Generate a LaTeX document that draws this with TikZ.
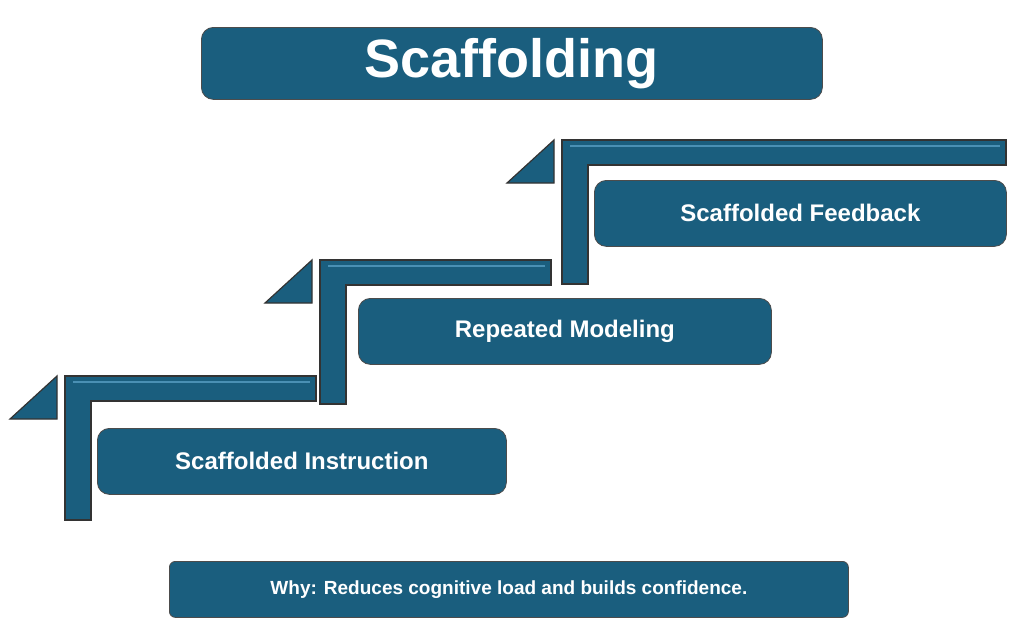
\documentclass[tikz,border=0pt]{standalone}
\usepackage{fontspec}
\setmainfont{Liberation Sans}
\definecolor{teal1}{HTML}{1A5E7E}
\definecolor{teal2}{HTML}{4A90B4}
\tikzset{
  box/.style = {draw=black!70, fill=teal1, rounded corners=6pt, text=white,
    font=\bfseries, inner sep=0pt, anchor=north west},
  stair/.style = {draw=black!80, fill=teal1, line width=0.6pt},
}
\begin{document}
\begin{tikzpicture}[x=0.5pt, y=-0.5pt]
  \useasboundingbox (0,0) rectangle (1024,638);
  % title
  \node[box, minimum width=310.5pt, minimum height=36pt, font=\bfseries\fontsize{27}{30}\selectfont] (title) at (201,27) {Scaffolding};
  % steps
  \foreach \x/\y/\w in {65/376/251, 320/260/231, 562/140/444} {
    \draw[stair] (\x,\y) -- ++(\w,0) -- ++(0,25) -- ++({26-\w},0) -- ++(0,119) -- ++(-26,0) -- cycle;
    \draw[stair] ({\x-55},{\y+43}) -- ({\x-8},\y) -- ({\x-8},{\y+43}) -- cycle;
    \draw[teal2, line width=1pt] ({\x+8},{\y+6}) -- ({\x+\w-6},{\y+6});
  }
  % boxes
  \node[box, minimum width=204.5pt, minimum height=33pt, font=\bfseries\fontsize{12}{14}\selectfont] (instr) at (97,428) {Scaffolded Instruction};
  \node[box, minimum width=206.5pt, minimum height=33pt, font=\bfseries\fontsize{12}{14}\selectfont] (model) at (358,298) {Repeated Modeling};
  \node[box, minimum width=206pt, minimum height=33pt, font=\bfseries\fontsize{12}{14}\selectfont] (feed) at (594,180) {Scaffolded Feedback};
  \node[box, minimum width=339.5pt, minimum height=28pt, rounded corners=3pt, font=\bfseries\fontsize{9.5}{11}\selectfont] (why) at (169,561) {Why: Reduces cognitive load and builds confidence.};
\end{tikzpicture}
\end{document}
